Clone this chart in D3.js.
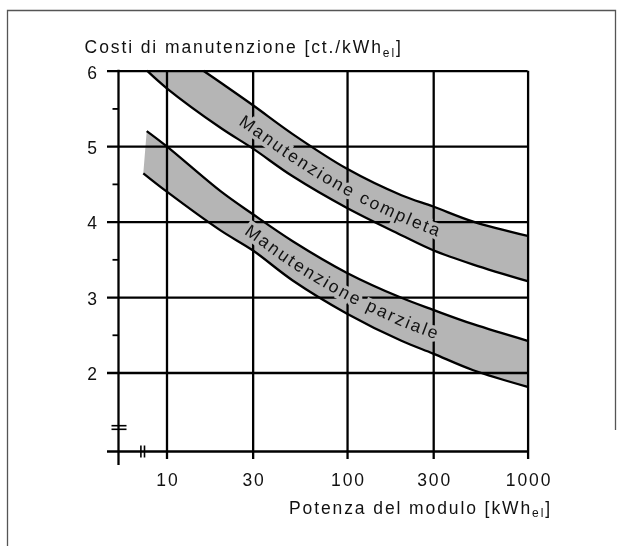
<!DOCTYPE html>
<html>
<head>
<meta charset="utf-8">
<script src="https://cdn.jsdelivr.net/npm/d3@7"></script>
<style>
  html, body { margin: 0; padding: 0; background: #fff; }
  svg text { font-family: "Liberation Sans", Arial, sans-serif; fill: #111; }
</style>
</head>
<body>
<svg id="chart" width="623" height="546"></svg>
<script>
// Axis ticks
const xTicks = [10, 30, 100, 300, 1000];
const xTickLabels = ["10", "30", "100", "300", "1000"];
const yTicks = [2, 3, 4, 5, 6];
const yTickLabels = ["2", "3", "4", "5", "6"];
const yMinorTicks = [2.5, 3.5, 4.5, 5.5];

// "Manutenzione completa" band: upper and lower edge (kW, ct./kWh)
const completaUpperKw = [16, 20, 30, 50, 100, 200, 300, 500, 1000];
const completaUpper   = [6.0, 5.84, 5.545, 5.16, 4.70, 4.35, 4.20, 4.0, 3.81];
const completaLowerKw = [7.8, 10, 20, 30, 50, 100, 200, 300, 500, 1000];
const completaLower   = [6.0, 5.77, 5.24, 4.97, 4.60, 4.18, 3.82, 3.62, 3.43, 3.21];

// "Manutenzione parziale" band
const parzialeUpperKw = [7.77, 10, 20, 30, 50, 100, 200, 300, 500, 1000];
const parzialeUpper   = [5.2, 5.0, 4.40, 4.10, 3.74, 3.32, 2.99, 2.83, 2.64, 2.42];
const parzialeLowerKw = [7.44, 10, 20, 30, 50, 100, 200, 300, 500, 1000];
const parzialeLower   = [4.64, 4.40, 3.88, 3.62, 3.22, 2.78, 2.42, 2.25, 2.03, 1.81];

const bandLabels = ["Manutenzione completa", "Manutenzione parziale"];
const labelStartKw = [26, 28];

const yTitle = ["Costi di manutenzione [ct./kWh", "el", "]"];
const xTitle = ["Potenza del modulo [kWh", "el", "]"];

const W = 623, H = 546;
const FONT = '"Liberation Sans", Arial, sans-serif';
const FS = 17.5, LS = 1.9;
const svg = d3.select("#chart");

const x = d3.scaleLog().domain([10, 1000]).range([166.5, 527.6]);
const y = d3.scaleLinear().domain([2, 6]).range([372.5, 70.7]);

const axisLeftPx = x(10) - 48;      // broken-off y axis
const baselinePx = y(2) + 79;       // broken-off x axis
const gridLeftPx = x(10) - 59.5;    // horizontal gridlines run out past the axis

// Frame
svg.append("path")
  .attr("d", `M7.5,${H} V10.5 H615.5 V430`)
  .attr("fill", "none").attr("stroke", "#555").attr("stroke-width", 1.3);

const defs = svg.append("defs");

const curve = d3.curveCatmullRom.alpha(0.5);
const edgeLine = d3.line().x(d => x(d[0])).y(d => y(d[1])).curve(curve);
const zip = (k, v) => k.map((d, i) => [d, v[i]]);

const bands = [
  { upper: zip(completaUpperKw, completaUpper), lower: zip(completaLowerKw, completaLower) },
  { upper: zip(parzialeUpperKw, parzialeUpper), lower: zip(parzialeLowerKw, parzialeLower) }
];

// Band fills
const gBands = svg.append("g");
bands.forEach(b => {
  const up = edgeLine(b.upper);
  const lowRev = edgeLine(b.lower.slice().reverse());
  gBands.append("path")
    .attr("d", up + "L" + lowRev.slice(1) + "Z")
    .attr("fill", "#b5b5b5").attr("stroke", "none");
});

function yAt(node, px) {
  let lo = 0, hi = node.getTotalLength();
  for (let i = 0; i < 40; i++) {
    const mid = (lo + hi) / 2;
    if (node.getPointAtLength(mid).x < px) lo = mid; else hi = mid;
  }
  return node.getPointAtLength((lo + hi) / 2).y;
}

// Caption guides run along the middle of each band
const tmp = svg.append("g").attr("visibility", "hidden");
bands.forEach((b, i) => {
  const nu = tmp.append("path").attr("d", edgeLine(b.upper)).node();
  const nl = tmp.append("path").attr("d", edgeLine(b.lower)).node();
  const pts = [];
  for (let px = x(labelStartKw[i]); px <= x(1000); px += 3) {
    pts.push([px, (yAt(nu, px) + yAt(nl, px)) / 2]);
  }
  defs.append("path").attr("id", "guide" + i)
    .attr("d", d3.line().curve(d3.curveBasis)(pts));
});
tmp.remove();

// Mask: gridlines give way around the band captions
const mask = defs.append("mask").attr("id", "gridMask")
  .attr("maskUnits", "userSpaceOnUse")
  .attr("x", 0).attr("y", 0).attr("width", W).attr("height", H);
mask.append("rect").attr("width", W).attr("height", H).attr("fill", "#fff");

function addLabel(sel, i) {
  const t = sel.append("text")
    .attr("font-size", FS)
    .attr("letter-spacing", 2.1)
    .attr("dy", "0.36em");
  t.append("textPath").attr("href", "#guide" + i).text(bandLabels[i]);
  return t;
}
bandLabels.forEach((_, i) => addLabel(mask, i).style("fill", "#000").attr("stroke", "#000").attr("stroke-width", 7));

// Grid + axes
const gGrid = svg.append("g").attr("mask", "url(#gridMask)");

const yGrid = d3.axisLeft(y).tickValues(yTicks)
  .tickSize(x(1000) - gridLeftPx).tickPadding(10)
  .tickFormat((d, i) => yTickLabels[i]);
const gy = gGrid.append("g").attr("transform", `translate(${x(1000)},0)`).call(yGrid);
gy.select(".domain").remove();
gy.selectAll("line").attr("stroke", "#000").attr("stroke-width", 2.3);
gy.selectAll("text").attr("font-size", FS).attr("dy", "0.42em")
  .style("font-family", FONT).style("fill", "#111");

const xGrid = d3.axisBottom(x).tickValues(xTicks)
  .tickSize(baselinePx - y(6) + 7.5).tickPadding(15)
  .tickFormat((d, i) => xTickLabels[i]);
const gx = gGrid.append("g").attr("transform", `translate(0,${y(6)})`).call(xGrid);
gx.select(".domain").remove();
gx.selectAll("line").attr("stroke", "#000").attr("stroke-width", 2.3);
gx.selectAll("text").attr("font-size", FS).attr("letter-spacing", LS).attr("dx", LS / 2)
  .style("font-family", FONT).style("fill", "#111");

// Minor ticks on the y axis
const yMinor = d3.axisLeft(y).tickValues(yMinorTicks).tickSize(6).tickFormat("");
const gm = svg.append("g").attr("transform", `translate(${axisLeftPx},0)`).call(yMinor);
gm.select(".domain").remove();
gm.selectAll("line").attr("stroke", "#000").attr("stroke-width", 1.8);

// Axis lines
const gAx = svg.append("g").attr("stroke", "#000").attr("fill", "none");
gAx.append("line").attr("x1", axisLeftPx).attr("x2", axisLeftPx)
  .attr("y1", y(6) - 1).attr("y2", baselinePx + 13.5).attr("stroke-width", 2.3);
gAx.append("line").attr("x1", gridLeftPx).attr("x2", x(1000) + 1)
  .attr("y1", baselinePx).attr("y2", baselinePx).attr("stroke-width", 2.3);
// break symbols
[-1.8, 1.8].forEach(o => {
  gAx.append("line").attr("x1", axisLeftPx - 7).attr("x2", axisLeftPx + 8)
    .attr("y1", baselinePx - 24 + o).attr("y2", baselinePx - 24 + o).attr("stroke-width", 1.6);
  gAx.append("line").attr("x1", axisLeftPx + 24.2 + o).attr("x2", axisLeftPx + 24.2 + o)
    .attr("y1", baselinePx - 6).attr("y2", baselinePx + 6).attr("stroke-width", 1.6);
});

// Band edges on top of the grid
const gEdges = svg.append("g").attr("fill", "none").attr("stroke", "#000").attr("stroke-width", 2.3);
bands.forEach(b => {
  gEdges.append("path").attr("d", edgeLine(b.upper));
  gEdges.append("path").attr("d", edgeLine(b.lower));
});

// Band captions
const gLabels = svg.append("g");
bandLabels.forEach((_, i) => addLabel(gLabels, i));

// Axis titles
function title(parts, px, py, anchor) {
  const t = svg.append("text").attr("x", px).attr("y", py)
    .attr("font-size", FS).attr("letter-spacing", LS).attr("text-anchor", anchor);
  t.append("tspan").text(parts[0]);
  t.append("tspan").attr("font-size", 12).attr("dy", 3.5).text(parts[1]);
  t.append("tspan").attr("dy", -3.5).text(parts[2]);
  return t;
}
title(yTitle, 84.6, 53, "start");
title(xTitle, 552, 513.5, "end");
</script>
</body>
</html>
